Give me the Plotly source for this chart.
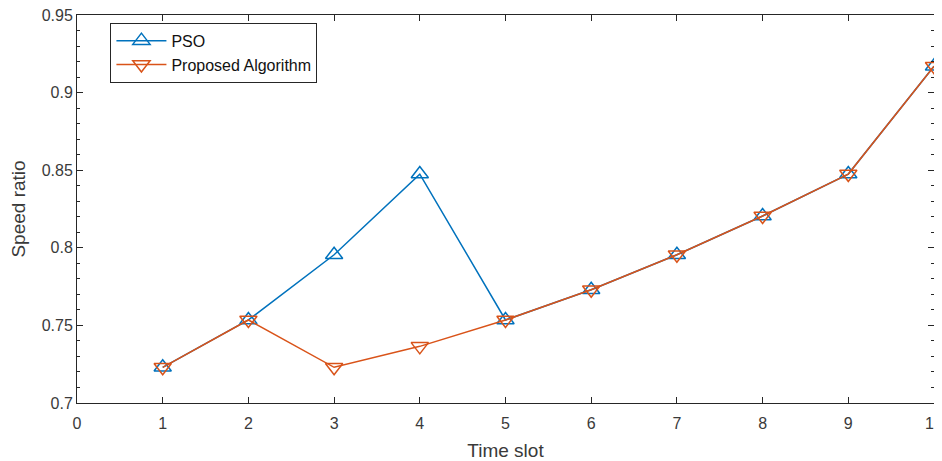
import plotly.graph_objects as go

time_slot = [1, 2, 3, 4, 5, 6, 7, 8, 9, 10]
pso = [0.723, 0.7535, 0.7955, 0.8475, 0.7535, 0.773, 0.7955, 0.8205, 0.8475, 0.917]
proposed = [0.723, 0.7535, 0.723, 0.7365, 0.7535, 0.773, 0.7955, 0.8205, 0.8475, 0.917]

blue = "#0072BD"
orange = "#D95319"
font = "Liberation Sans, Arial, sans-serif"

fig = go.Figure()
fig.add_trace(go.Scatter(
    x=time_slot, y=pso, name="PSO", mode="lines+markers",
    line=dict(color=blue, width=1.5),
    marker=dict(symbol="triangle-up-open", size=15, color=blue, line=dict(width=1.5)),
))
fig.add_trace(go.Scatter(
    x=time_slot, y=proposed, name="Proposed Algorithm", mode="lines+markers",
    line=dict(color=orange, width=1.5),
    marker=dict(symbol="triangle-down-open", size=15, color=orange, line=dict(width=1.5)),
))

# page body has an 8px default margin, so the figure is offset by 8px
fig.update_layout(
    width=934, height=453,
    margin=dict(l=69, r=8, t=7, b=58),
    plot_bgcolor="white", paper_bgcolor="white",
    font=dict(family=font, size=16, color="#3a3a3a"),
    showlegend=True,
    legend=dict(
        x=0.039, y=0.98, xanchor="left", yanchor="top",
        bgcolor="white", bordercolor="#262626", borderwidth=1,
        font=dict(size=16, color="#111111"),
        tracegroupgap=0, itemwidth=50,
    ),
)
fig.update_xaxes(
    range=[0, 10], tickmode="array", tickvals=list(range(0, 11)),
    ticktext=[str(v) for v in range(0, 11)],
    showgrid=False, zeroline=False, automargin=False, ticklabeloverflow="allow",
    showline=True, linecolor="#262626", linewidth=1, mirror="ticks",
    ticks="inside", ticklen=6, tickcolor="#262626", ticklabelstandoff=6,
    title=dict(text="Time slot", font=dict(size=19, color="#3a3a3a"), standoff=19),
)
fig.update_yaxes(
    range=[0.7, 0.95], tickmode="array",
    tickvals=[0.7, 0.75, 0.8, 0.85, 0.9, 0.95],
    ticktext=["0.7", "0.75", "0.8", "0.85", "0.9", "0.95"],
    showgrid=False, zeroline=False, automargin=False, ticklabeloverflow="allow",
    showline=True, linecolor="#262626", linewidth=1, mirror="ticks",
    ticks="inside", ticklen=6, tickcolor="#262626",
    minor=dict(dtick=0.01, tick0=0.7, ticks="inside", ticklen=3, tickcolor="#262626", showgrid=False),
    title=dict(text="Speed ratio", font=dict(size=19, color="#3a3a3a"), standoff=12),
)

fig.write_html("out.html")
